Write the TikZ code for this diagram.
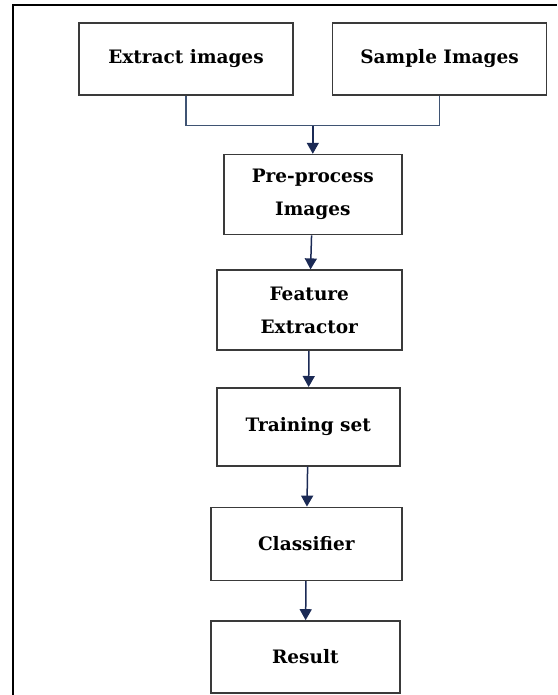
\documentclass[tikz,border=0pt]{standalone}
\usepackage{fontspec}
\setmainfont{DejaVu Serif}
\usepackage{xcolor}
\usetikzlibrary{arrows.meta, positioning}

\definecolor{boxline}{HTML}{3A3A3A}
\definecolor{linkline}{HTML}{3F5373}
\definecolor{navy}{HTML}{1B2A55}

\begin{document}
\begin{tikzpicture}[
        x=1pt, y=1pt,
        stepbox/.style={draw=boxline, line width=1.6pt, rectangle, align=center, inner sep=0pt, font=\fontsize{18.5}{33}\selectfont\bfseries},
        link/.style={draw=linkline, line width=1.4pt},
        arrow/.style={draw=navy, line width=1.5pt, -{Triangle[width=12pt, length=11pt]}}
    ]
        \useasboundingbox (0,0) rectangle (557,-695);
        % Frame
            \draw[line width=2.6pt] (13,-695) -- (13,-5) -- (557,-5);

        % Nodes
            \node[stepbox, minimum width=214pt, minimum height=72pt] (extract) at (186,-59) {Extract images};
            \node[stepbox, minimum width=214pt, minimum height=72pt, right=38pt of extract] (sample) {Sample Images};
            \path (extract.south) -- (sample.south) coordinate[midway] (mid);
            \coordinate[below=30pt of mid] (join);
            \node[stepbox, minimum width=178pt, minimum height=80pt, below=28pt of join] (prep) {Pre-process\\Images};
            \node[stepbox, minimum width=185pt, minimum height=80pt, below=34pt of prep, xshift=-3.5pt] (feat) {Feature\\Extractor};
            \node[stepbox, minimum width=183pt, minimum height=78pt, below=36pt of feat, xshift=-1pt] (train) {Training set};
            \node[stepbox, minimum width=191pt, minimum height=73pt, below=40pt of train, xshift=-2pt] (clf) {Classifier};
            \node[stepbox, minimum width=189pt, minimum height=72pt, below=39pt of clf, xshift=-1pt] (result) {Result};

            % Arrows
            \draw[link] (extract) -- (extract |- join) -- (sample |- join) -- (sample);
            \draw[arrow] (join) -- (prep);
            \draw[arrow] (prep) -- (feat);
            \draw[arrow] (feat) -- (train);
            \draw[arrow] (train) -- (clf);
            \draw[arrow] (clf) -- (result);
    \end{tikzpicture}
\end{document}
